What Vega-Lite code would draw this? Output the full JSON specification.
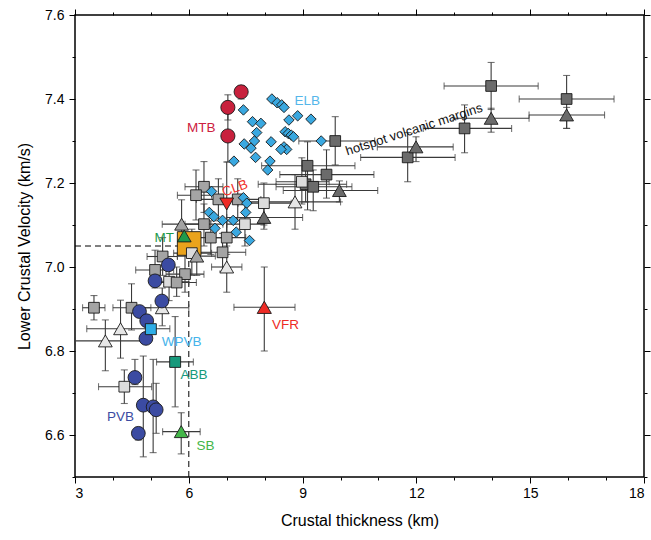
{
  "$schema": "https://vega.github.io/schema/vega-lite/v6.json",
  "width": 569,
  "height": 462,
  "autosize": "none",
  "padding": {"left": 75, "top": 15, "right": 7, "bottom": 63},
  "background": "white",
  "config": {
    "font": "Liberation Sans",
    "view": {"stroke": "black", "strokeWidth": 1.5},
    "axis": {"grid": false, "domain": false, "tickColor": "black", "tickWidth": 1, "labelColor": "black", "titleColor": "black", "labelFont": "Liberation Sans", "titleFont": "Liberation Sans", "labelFontSize": 14, "titleFontSize": 16, "titleFontWeight": "normal"}
  },
  "datasets": {
    "pts": [
      {"c":"sqD","x":9.86,"y":7.30,"xlo":8.9,"xhi":10.9,"ylo":7.243,"yhi":7.358},
      {"c":"sqD","x":9.13,"y":7.241,"xlo":7.92,"xhi":10.38,"ylo":7.136,"yhi":7.298},
      {"c":"sqD","x":9.63,"y":7.22,"xlo":8.4,"xhi":10.88,"ylo":7.164,"yhi":7.279},
      {"c":"sqD","x":9.08,"y":7.197,"xlo":7.83,"xhi":10.16,"ylo":7.155,"yhi":7.24},
      {"c":"sqD","x":9.28,"y":7.191,"xlo":8.3,"xhi":10.3,"ylo":7.134,"yhi":7.231},
      {"c":"sqD","x":11.77,"y":7.261,"xlo":10.53,"xhi":13.02,"ylo":7.203,"yhi":7.32},
      {"c":"sqD","x":13.27,"y":7.33,"xlo":12.18,"xhi":14.51,"ylo":7.272,"yhi":7.386},
      {"c":"sqD","x":13.97,"y":7.431,"xlo":12.73,"xhi":15.21,"ylo":7.375,"yhi":7.487},
      {"c":"sqD","x":15.96,"y":7.40,"xlo":14.71,"xhi":17.21,"ylo":7.33,"yhi":7.456},
      {"c":"trD","x":7.98,"y":7.118,"xlo":7.0,"xhi":9.0,"ylo":7.09,"yhi":7.145},
      {"c":"trD","x":9.97,"y":7.182,"xlo":8.49,"xhi":10.98,"ylo":7.155,"yhi":7.205},
      {"c":"trD","x":11.99,"y":7.286,"xlo":10.97,"xhi":12.97,"ylo":7.251,"yhi":7.31},
      {"c":"trD","x":13.97,"y":7.354,"xlo":12.97,"xhi":14.97,"ylo":7.321,"yhi":7.378},
      {"c":"trD","x":15.96,"y":7.362,"xlo":14.97,"xhi":16.96,"ylo":7.33,"yhi":7.38},
      {"c":"sqL","x":7.98,"y":7.152,"xlo":7.3,"xhi":8.7,"ylo":7.10,"yhi":7.20},
      {"c":"sqL","x":8.98,"y":7.203,"xlo":8.3,"xhi":9.7,"ylo":7.15,"yhi":7.26},
      {"c":"sqL","x":7.48,"y":7.102,"xlo":7.0,"xhi":8.0,"ylo":7.05,"yhi":7.15},
      {"c":"sqL","x":5.48,"y":6.965,"xlo":5.0,"xhi":6.0,"ylo":6.92,"yhi":7.01},
      {"c":"sqL","x":4.30,"y":6.715,"xlo":3.62,"xhi":5.02,"ylo":6.675,"yhi":6.755},
      {"c":"sqM","x":6.40,"y":7.191,"xlo":5.9,"xhi":6.9,"ylo":7.13,"yhi":7.251},
      {"c":"sqM","x":6.19,"y":7.171,"xlo":5.7,"xhi":6.6,"ylo":7.112,"yhi":7.231},
      {"c":"sqM","x":6.78,"y":7.161,"xlo":6.2,"xhi":7.4,"ylo":7.11,"yhi":7.21},
      {"c":"sqM","x":7.29,"y":7.161,"xlo":6.7,"xhi":7.9,"ylo":7.11,"yhi":7.21},
      {"c":"sqM","x":6.40,"y":7.102,"xlo":5.9,"xhi":6.9,"ylo":7.05,"yhi":7.15},
      {"c":"sqM","x":6.58,"y":7.07,"xlo":6.1,"xhi":7.1,"ylo":7.03,"yhi":7.11},
      {"c":"sqM","x":7.00,"y":7.07,"xlo":6.5,"xhi":7.5,"ylo":7.03,"yhi":7.11},
      {"c":"sqM","x":6.89,"y":7.035,"xlo":6.3,"xhi":7.5,"ylo":6.99,"yhi":7.08},
      {"c":"sqM","x":5.31,"y":7.025,"xlo":4.9,"xhi":5.7,"ylo":6.98,"yhi":7.07},
      {"c":"sqM","x":5.11,"y":6.993,"xlo":4.6,"xhi":5.6,"ylo":6.95,"yhi":7.04},
      {"c":"sqM","x":5.90,"y":6.983,"xlo":5.4,"xhi":6.4,"ylo":6.94,"yhi":7.03},
      {"c":"sqM","x":5.68,"y":6.963,"xlo":5.2,"xhi":6.2,"ylo":6.93,"yhi":7.0},
      {"c":"sqM","x":3.50,"y":6.903,"xlo":3.2,"xhi":3.79,"ylo":6.874,"yhi":6.932},
      {"c":"sqM","x":4.49,"y":6.903,"xlo":4.0,"xhi":5.0,"ylo":6.85,"yhi":6.96},
      {"c":"trL","x":8.80,"y":7.155,"xlo":7.6,"xhi":10.0,"ylo":7.09,"yhi":7.22},
      {"c":"trL","x":7.00,"y":7.00,"xlo":6.6,"xhi":7.4,"ylo":6.94,"yhi":7.06},
      {"c":"trL","x":5.30,"y":6.903,"xlo":4.5,"xhi":6.0,"ylo":6.86,"yhi":6.95},
      {"c":"trL","x":4.20,"y":6.853,"xlo":3.31,"xhi":5.5,"ylo":6.783,"yhi":6.921},
      {"c":"trL","x":3.80,"y":6.824,"xlo":3.0,"xhi":4.8,"ylo":6.753,"yhi":6.874},
      {"c":"trM","x":5.81,"y":7.102,"xlo":5.3,"xhi":6.3,"ylo":7.05,"yhi":7.16},
      {"c":"ELB","x":7.44,"y":7.374},
      {"c":"ELB","x":8.19,"y":7.400},
      {"c":"ELB","x":8.33,"y":7.391},
      {"c":"ELB","x":8.45,"y":7.386},
      {"c":"ELB","x":8.51,"y":7.380},
      {"c":"ELB","x":8.87,"y":7.360},
      {"c":"ELB","x":9.22,"y":7.352},
      {"c":"ELB","x":8.64,"y":7.350},
      {"c":"ELB","x":7.68,"y":7.346},
      {"c":"ELB","x":7.90,"y":7.342},
      {"c":"ELB","x":7.79,"y":7.320},
      {"c":"ELB","x":8.54,"y":7.322},
      {"c":"ELB","x":8.62,"y":7.318},
      {"c":"ELB","x":8.70,"y":7.314},
      {"c":"ELB","x":8.76,"y":7.310},
      {"c":"ELB","x":7.73,"y":7.300},
      {"c":"ELB","x":7.46,"y":7.293},
      {"c":"ELB","x":7.64,"y":7.283},
      {"c":"ELB","x":8.17,"y":7.298},
      {"c":"ELB","x":8.51,"y":7.286},
      {"c":"ELB","x":8.58,"y":7.280},
      {"c":"ELB","x":8.43,"y":7.280},
      {"c":"ELB","x":9.49,"y":7.300},
      {"c":"ELB","x":7.76,"y":7.261},
      {"c":"ELB","x":8.14,"y":7.252},
      {"c":"ELB","x":8.08,"y":7.231},
      {"c":"ELB","x":7.19,"y":7.252},
      {"c":"ELB","x":6.60,"y":7.180},
      {"c":"ELB","x":7.44,"y":7.165},
      {"c":"ELB","x":7.53,"y":7.152},
      {"c":"ELB","x":6.54,"y":7.130},
      {"c":"ELB","x":6.66,"y":7.120},
      {"c":"ELB","x":6.89,"y":7.111},
      {"c":"ELB","x":7.17,"y":7.111},
      {"c":"ELB","x":7.50,"y":7.130},
      {"c":"ELB","x":6.69,"y":7.092},
      {"c":"ELB","x":7.25,"y":7.083},
      {"c":"ELB","x":7.60,"y":7.063},
      {"c":"OR","x":6.01,"y":7.056},
      {"c":"sqL","x":6.08,"y":7.033,"xlo":5.6,"xhi":6.6,"ylo":6.98,"yhi":7.09},
      {"c":"trM","x":6.21,"y":7.026,"xlo":5.7,"xhi":6.7,"ylo":6.98,"yhi":7.07},
      {"c":"PVB","x":5.46,"y":7.005},
      {"c":"PVB","x":5.11,"y":6.967},
      {"c":"PVB","x":5.29,"y":6.919},
      {"c":"PVB","x":4.70,"y":6.894},
      {"c":"PVB","x":4.89,"y":6.872},
      {"c":"PVB","x":4.87,"y":6.830},
      {"c":"PVB","x":4.58,"y":6.737,"ylo":6.72,"yhi":6.78},
      {"c":"PVB","x":4.80,"y":6.671,"ylo":6.548,"yhi":6.788},
      {"c":"PVB","x":5.06,"y":6.667,"ylo":6.558,"yhi":6.78},
      {"c":"PVB","x":5.14,"y":6.660,"ylo":6.604,"yhi":6.723},
      {"c":"PVB","x":4.67,"y":6.604,"ylo":6.588,"yhi":6.618},
      {"c":"MTB","x":7.38,"y":7.417,"ylo":7.40,"yhi":7.432},
      {"c":"MTB","x":7.03,"y":7.380,"ylo":7.35,"yhi":7.41},
      {"c":"MTB","x":7.03,"y":7.312,"ylo":7.25,"yhi":7.37},
      {"c":"CLB","x":7.0,"y":7.15,"ylo":7.05,"yhi":7.25},
      {"c":"VFR","x":7.99,"y":6.904,"xlo":7.19,"xhi":8.8,"ylo":6.8,"yhi":7.0},
      {"c":"MT","x":5.88,"y":7.074},
      {"c":"SB","x":5.80,"y":6.608,"xlo":5.31,"xhi":6.3,"ylo":6.555,"yhi":6.653},
      {"c":"WPVB","x":5.0,"y":6.852},
      {"c":"ABB","x":5.64,"y":6.774,"xlo":5.15,"xhi":6.12,"ylo":6.667,"yhi":6.882}
    ],
    "labels": [
      {"t":"MTB","x":6.33,"y":7.330},
      {"t":"ELB","x":9.12,"y":7.395},
      {"t":"CLB","x":7.22,"y":7.187},
      {"t":"MT","x":5.35,"y":7.070},
      {"t":"WPVB","x":5.81,"y":6.821},
      {"t":"ABB","x":6.14,"y":6.742},
      {"t":"PVB","x":4.20,"y":6.642},
      {"t":"SB","x":6.44,"y":6.573},
      {"t":"VFR","x":8.55,"y":6.862},
      {"t":"hotspot volcanic margins","x":11.94,"y":7.327}
    ],
    "dash": [
      {"x":3,"x2":6,"y":7.05,"y2":7.05},
      {"x":6,"x2":6,"y":6.5,"y2":7.05}
    ],
    "ax": [{"x":3,"y":6.5}]
  },
  "resolve": {"axis": {"x": "independent", "y": "independent"}},
  "layer": [
    {
      "data": {"name": "dash"},
      "mark": {"type": "rule", "color": "black", "strokeWidth": 1, "strokeDash": [6, 4]},
      "encoding": {
        "x": {"field": "x", "type": "quantitative", "scale": {"domain": [3, 18], "nice": false, "zero": false}, "axis": null},
        "x2": {"field": "x2"},
        "y": {"field": "y", "type": "quantitative", "scale": {"domain": [6.5, 7.6], "nice": false, "zero": false}, "axis": null},
        "y2": {"field": "y2"}
      }
    },
    {
      "data": {"name": "pts"},
      "transform": [{"filter": "isValid(datum.xlo)"}],
      "mark": {"type": "errorbar", "color": "#3a3a3a", "thickness": 1.1, "ticks": {"size": 7, "thickness": 1.1}},
      "encoding": {
        "x": {"field": "xlo", "type": "quantitative", "scale": {"domain": [3, 18], "nice": false, "zero": false}, "axis": null},
        "x2": {"field": "xhi"},
        "y": {"field": "y", "type": "quantitative", "scale": {"domain": [6.5, 7.6], "nice": false, "zero": false}, "axis": null}
      }
    },
    {
      "data": {"name": "pts"},
      "transform": [{"filter": "isValid(datum.ylo)"}],
      "mark": {"type": "errorbar", "color": "#3a3a3a", "thickness": 1.1, "ticks": {"size": 7, "thickness": 1.1}},
      "encoding": {
        "y": {"field": "ylo", "type": "quantitative", "scale": {"domain": [6.5, 7.6], "nice": false, "zero": false}, "axis": null},
        "y2": {"field": "yhi"},
        "x": {"field": "x", "type": "quantitative", "scale": {"domain": [3, 18], "nice": false, "zero": false}, "axis": null}
      }
    },
    {
      "data": {"name": "pts"},
      "mark": {"type": "point", "filled": true, "stroke": "#1a1a1a", "strokeWidth": 0.9, "opacity": 1},
      "encoding": {
        "x": {"field": "x", "type": "quantitative", "scale": {"domain": [3, 18], "nice": false, "zero": false},
              "axis": {"orient": "bottom", "values": [3, 6, 9, 12, 15, 18], "format": "d", "tickSize": 6, "labelPadding": 3, "title": "Crustal thickness (km)", "titlePadding": 12}},
        "y": {"field": "y", "type": "quantitative", "scale": {"domain": [6.5, 7.6], "nice": false, "zero": false},
              "axis": {"orient": "left", "values": [6.6, 6.8, 7.0, 7.2, 7.4, 7.6], "format": ".1f", "tickSize": 6, "labelPadding": 5, "title": "Lower Crustal Velocity (km/s)", "titlePadding": 12}},
        "shape": {"field": "c", "type": "nominal", "legend": null,
                  "scale": {"domain": ["sqL","sqM","sqD","trL","trM","trD","ELB","PVB","MTB","CLB","VFR","MT","SB","WPVB","ABB","OR"],
                            "range": ["square","square","square","triangle-up","triangle-up","triangle-up","diamond","circle","circle","triangle-down","triangle-up","triangle-up","triangle-up","square","square","square"]}},
        "fill": {"field": "c", "type": "nominal", "legend": null,
                 "scale": {"domain": ["sqL","sqM","sqD","trL","trM","trD","ELB","PVB","MTB","CLB","VFR","MT","SB","WPVB","ABB","OR"],
                           "range": ["#dcdcdc","#a4a4a4","#6b6b6b","#e6e6e6","#a3a3a3","#6b6b6b","#3aa8e0","#3b4ba2","#c8213d","#ee2b25","#ee2b25","#1f9a4b","#43b649","#2faee7","#16997b","#eaa31c"]}},
        "size": {"field": "c", "type": "nominal", "legend": null,
                 "scale": {"type": "ordinal", "domain": ["sqL","sqM","sqD","trL","trM","trD","ELB","PVB","MTB","CLB","VFR","MT","SB","WPVB","ABB","OR"],
                           "range": [115,115,115,190,190,190,110,190,200,190,200,190,190,120,120,560]}}
      }
    },
    {
      "data": {"name": "labels"},
      "transform": [{"filter": "datum.t !== 'CLB' && datum.t !== 'hotspot volcanic margins'"}],
      "mark": {"type": "text", "fontSize": 13.5, "font": "Liberation Sans", "align": "center", "baseline": "middle"},
      "encoding": {
        "x": {"field": "x", "type": "quantitative", "scale": {"domain": [3, 18], "nice": false, "zero": false}, "axis": null},
        "y": {"field": "y", "type": "quantitative", "scale": {"domain": [6.5, 7.6], "nice": false, "zero": false}, "axis": null},
        "text": {"field": "t"},
        "color": {"field": "t", "type": "nominal", "legend": null,
                  "scale": {"domain": ["MTB","ELB","CLB","MT","WPVB","ABB","PVB","SB","VFR","hotspot volcanic margins"],
                            "range": ["#cd2040","#55b6ea","#f0302a","#1f9a4b","#45b3ea","#159a7b","#3b4ba2","#43b649","#ee2b25","#111111"]}}
      }
    },
    {
      "data": {"name": "labels"},
      "transform": [{"filter": "datum.t === 'CLB'"}],
      "mark": {"type": "text", "fontSize": 13.5, "font": "Liberation Sans", "align": "center", "baseline": "middle", "angle": -20},
      "encoding": {
        "x": {"field": "x", "type": "quantitative", "scale": {"domain": [3, 18], "nice": false, "zero": false}, "axis": null},
        "y": {"field": "y", "type": "quantitative", "scale": {"domain": [6.5, 7.6], "nice": false, "zero": false}, "axis": null},
        "text": {"field": "t"},
        "color": {"field": "t", "type": "nominal", "legend": null,
                  "scale": {"domain": ["MTB","ELB","CLB","MT","WPVB","ABB","PVB","SB","VFR","hotspot volcanic margins"],
                            "range": ["#cd2040","#55b6ea","#f0302a","#1f9a4b","#45b3ea","#159a7b","#3b4ba2","#43b649","#ee2b25","#111111"]}}
      }
    },
    {
      "data": {"name": "labels"},
      "transform": [{"filter": "datum.t === 'hotspot volcanic margins'"}],
      "mark": {"type": "text", "fontSize": 13, "font": "Liberation Sans", "align": "center", "baseline": "middle", "angle": -18},
      "encoding": {
        "x": {"field": "x", "type": "quantitative", "scale": {"domain": [3, 18], "nice": false, "zero": false}, "axis": null},
        "y": {"field": "y", "type": "quantitative", "scale": {"domain": [6.5, 7.6], "nice": false, "zero": false}, "axis": null},
        "text": {"field": "t"},
        "color": {"field": "t", "type": "nominal", "legend": null,
                  "scale": {"domain": ["MTB","ELB","CLB","MT","WPVB","ABB","PVB","SB","VFR","hotspot volcanic margins"],
                            "range": ["#cd2040","#55b6ea","#f0302a","#1f9a4b","#45b3ea","#159a7b","#3b4ba2","#43b649","#ee2b25","#111111"]}}
      }
    },
    {
      "data": {"name": "ax"},
      "mark": {"type": "point", "opacity": 0},
      "encoding": {
        "x": {"field": "x", "type": "quantitative", "scale": {"domain": [3, 18], "nice": false, "zero": false},
              "axis": {"orient": "bottom", "values": [4, 5, 7, 8, 10, 11, 13, 14, 16, 17], "labels": false, "tickSize": 3, "title": null}},
        "y": {"field": "y", "type": "quantitative", "scale": {"domain": [6.5, 7.6], "nice": false, "zero": false},
              "axis": {"orient": "left", "values": [6.5, 6.7, 6.9, 7.1, 7.3, 7.5], "labels": false, "tickSize": 3, "title": null}}
      }
    },
    {
      "data": {"name": "ax"},
      "mark": {"type": "point", "opacity": 0},
      "encoding": {
        "x": {"field": "x", "type": "quantitative", "scale": {"domain": [3, 18], "nice": false, "zero": false},
              "axis": {"orient": "top", "values": [3, 6, 9, 12, 15, 18], "labels": false, "tickSize": 6, "title": null}},
        "y": {"field": "y", "type": "quantitative", "scale": {"domain": [6.5, 7.6], "nice": false, "zero": false},
              "axis": {"orient": "right", "values": [6.6, 6.8, 7.0, 7.2, 7.4, 7.6], "labels": false, "tickSize": 6, "title": null}}
      }
    },
    {
      "data": {"name": "ax"},
      "mark": {"type": "point", "opacity": 0},
      "encoding": {
        "x": {"field": "x", "type": "quantitative", "scale": {"domain": [3, 18], "nice": false, "zero": false},
              "axis": {"orient": "top", "values": [4, 5, 7, 8, 10, 11, 13, 14, 16, 17], "labels": false, "tickSize": 3, "title": null}},
        "y": {"field": "y", "type": "quantitative", "scale": {"domain": [6.5, 7.6], "nice": false, "zero": false},
              "axis": {"orient": "right", "values": [6.5, 6.7, 6.9, 7.1, 7.3, 7.5], "labels": false, "tickSize": 3, "title": null}}
      }
    }
  ]
}
